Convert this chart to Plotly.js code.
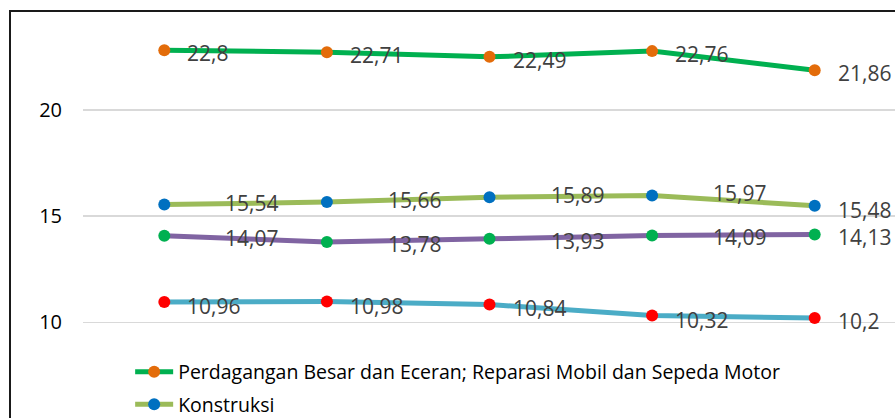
<!DOCTYPE html>
<html>
<head>
<meta charset="utf-8">
<script src="https://cdn.plot.ly/plotly-3.0.1.min.js"></script>
<style>
  html, body { margin: 0; padding: 0; overflow: hidden; background: #fff; width: 895px; height: 418px; }
  #frame { position: absolute; left: 9px; top: 10px; border-left: 2px solid #1a1a1a; border-top: 2px solid #1a1a1a; }
  #chart { width: 885px; height: 406px; }
</style>
</head>
<body>
<div id="frame"><div id="chart"></div></div>
<script>
// ---- data ----
var categories = ['2018', '2019', '2020', '2021', '2022'];
var seriesNames = [
  'Perdagangan Besar dan Eceran; Reparasi Mobil dan Sepeda Motor',
  'Konstruksi',
  'Industri Pengolahan',
  'Pertanian, Kehutanan, dan Perikanan'
];
var perdagangan = [22.8, 22.71, 22.49, 22.76, 21.86];
var konstruksi  = [15.54, 15.66, 15.89, 15.97, 15.48];
var industri    = [14.07, 13.78, 13.93, 14.09, 14.13];
var pertanian   = [10.96, 10.98, 10.84, 10.32, 10.2];
var yTicks = [10, 15, 20];

// ---- styles ----
var seriesValues = [perdagangan, konstruksi, industri, pertanian];
var lineColors   = ['#00B050', '#9BBB59', '#8064A2', '#4BACC6'];
var markerColors = ['#E36C0A', '#0070C0', '#00B050', '#FF0000'];
var inLegend     = [true, true, false, false]; // lower legend rows are cropped off in the reference
// label offsets (px) per series
var labelStyle = [
  {dx: 21, dxLast: 21, dy: 3,  dyLast: 3},
  {dx: 59, dxLast: 21, dy: -2, dyLast: 4},
  {dx: 59, dxLast: 21, dy: 2,  dyLast: 2},
  {dx: 21, dxLast: 21, dy: 4,  dyLast: 3}
];
function fmt(v) { return String(v).replace('.', ','); }

var traces = [];
var annotations = [];
seriesValues.forEach(function (vals, s) {
  traces.push({
    type: 'scatter', mode: 'lines+markers',
    x: categories, y: vals, name: seriesNames[s],
    legendgroup: 'g' + s, showlegend: inLegend[s],
    line: {color: lineColors[s], width: 5},
    marker: {color: markerColors[s], size: 12},
    cliponaxis: false
  });
  vals.forEach(function (v, i) {
    var last = i === vals.length - 1;
    var st = labelStyle[s];
    annotations.push({
      x: i, y: v, xref: 'x', yref: 'y',
      text: fmt(v), showarrow: false,
      xanchor: 'left', yanchor: 'middle',
      xshift: last ? st.dxLast : st.dx,
      yshift: -(last ? st.dyLast : st.dy),
      font: {family: 'Open Sans', size: 21, color: '#404040'}
    });
  });
});

var layout = {
  width: 885, height: 406,
  margin: {l: 72, r: 0, t: 10, b: 0, pad: 0, autoexpand: false},
  paper_bgcolor: '#ffffff', plot_bgcolor: '#ffffff',
  showlegend: true,
  legend: {
    x: 0.058, xanchor: 'left', y: 0.165, yanchor: 'top',
    bgcolor: 'rgba(255,255,255,0)',
    font: {family: 'Open Sans', size: 19.5, color: '#000000'},
    traceorder: 'grouped', tracegroupgap: 4,
    itemwidth: 38
  },
  xaxis: {
    type: 'category', range: [-0.5, 4.5], automargin: false,
    showgrid: false, zeroline: false, showline: false, ticks: '',
    showticklabels: false
  },
  yaxis: {
    range: [5.50, 24.13], tickvals: yTicks, ticktext: yTicks.map(String),
    automargin: false,
    showgrid: true, gridcolor: '#D9D9D9', gridwidth: 1.5,
    zeroline: false, showline: false, ticks: '',
    ticklabelstandoff: 20,
    tickfont: {family: 'Open Sans', size: 20, color: '#000000'}
  },
  annotations: annotations
};

Plotly.newPlot('chart', traces, layout, {displayModeBar: false, staticPlot: true});
</script>
</body>
</html>
